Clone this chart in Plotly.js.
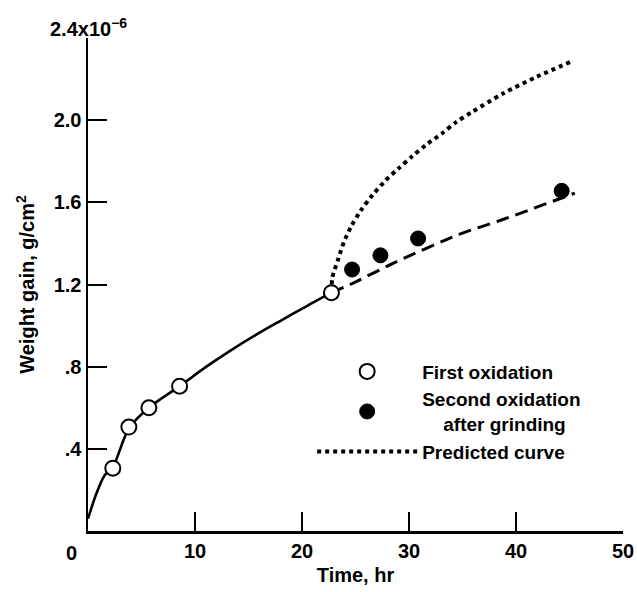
<!DOCTYPE html>
<html>
<head>
<meta charset="utf-8">
<script src="https://cdn.plot.ly/plotly-3.0.1.min.js"></script>
<style>html,body{margin:0;padding:0;background:#fff;}#chart{width:637px;height:592px;}</style>
</head>
<body>
<div id="chart"></div>
<script>
// Values in units of 1e-6 g/cm^2, time in hours
var fitTime = [0, 0.77, 1.54, 2.32, 3.82, 5.69, 8.56, 11.06, 13.24, 15.73, 17.91, 20.41, 22.75];
var fitGain = [0.06, 0.18, 0.27, 0.31, 0.50, 0.60, 0.705, 0.80, 0.876, 0.956, 1.021, 1.094, 1.16];

var secondFitTime = [22.75, 24.5, 28.8, 34.75, 38.7, 45.5];
var secondFitGain = [1.16, 1.20, 1.31, 1.445, 1.515, 1.645];

var predTime = [22.75, 22.84, 23.37, 23.90, 24.62, 25.52, 26.59, 27.74, 29.02, 30.33, 31.64, 33.07, 34.44, 35.90, 38.80, 41.93, 45.11];
var predGain = [1.16, 1.234, 1.321, 1.404, 1.485, 1.562, 1.635, 1.703, 1.765, 1.825, 1.882, 1.935, 1.992, 2.040, 2.130, 2.211, 2.284];

var firstTime = [2.32, 3.82, 5.69, 8.56, 22.75];
var firstGain = [0.306, 0.506, 0.600, 0.705, 1.16];

var secondTime = [24.68, 27.33, 30.85, 44.27];
var secondGain = [1.273, 1.342, 1.424, 1.656];

var xTicks = [10, 20, 30, 40, 50];
var yTicks = [0.4, 0.8, 1.2, 1.6, 2.0, 2.4];
var yTickText = ['.4', '.8', '1.2', '1.6', '2.0', ''];

var FONT = 'Liberation Sans, Arial, Helvetica, sans-serif';

var traces = [
  {x: fitTime, y: fitGain, mode: 'lines', line: {color: '#000', width: 2.6, shape: 'spline', smoothing: 0.8}, showlegend: false, hoverinfo: 'skip'},
  {x: secondFitTime, y: secondFitGain, mode: 'lines', line: {color: '#000', width: 3, dash: '13px,7px', shape: 'spline', smoothing: 0.8}, showlegend: false, hoverinfo: 'skip'},
  {x: predTime, y: predGain, mode: 'lines', name: 'Predicted curve', legendrank: 3, line: {color: '#000', width: 4, dash: '4px,4px', shape: 'spline', smoothing: 0.8}},
  {x: firstTime, y: firstGain, mode: 'markers', name: 'First oxidation', legendrank: 1, marker: {symbol: 'circle', size: 15, color: '#fff', line: {color: '#000', width: 2}}},
  {x: secondTime, y: secondGain, mode: 'markers', name: 'Second oxidation<br>\u00A0\u00A0\u00A0\u00A0after grinding', legendrank: 2, marker: {symbol: 'circle', size: 15, color: '#000', line: {color: '#000', width: 1}}}
];

var layout = {
  width: 637, height: 592,
  margin: {l: 88, r: 14, t: 38, b: 61},
  paper_bgcolor: '#fff', plot_bgcolor: '#fff',
  font: {family: FONT, size: 20, color: '#000', weight: 'bold'},
  xaxis: {
    range: [0, 50], tickvals: xTicks, ticks: 'inside', ticklen: 19, tickwidth: 2, tickcolor: '#000',
    showline: true, linewidth: 2.5, linecolor: '#000', showgrid: false, zeroline: false,
    tickfont: {family: FONT, size: 20, weight: 'bold'},
    title: {text: '\u00A0\u00A0Time, hr', font: {family: FONT, size: 20, weight: 'bold'}, standoff: 8}
  },
  yaxis: {
    range: [0, 2.4], tickvals: yTicks, ticktext: yTickText, ticks: 'inside', ticklen: 19, tickwidth: 2, tickcolor: '#000',
    showline: true, linewidth: 2.5, linecolor: '#000', showgrid: false, zeroline: false,
    tickfont: {family: FONT, size: 20, weight: 'bold'},
    title: {text: 'Weight gain, g/cm<sup>2</sup>', font: {family: FONT, size: 20, weight: 'bold'}, standoff: 14}
  },
  showlegend: true,
  legend: {
    x: 0.419, y: 0.362, xanchor: 'left', yanchor: 'top',
    bgcolor: 'rgba(0,0,0,0)', borderwidth: 0, itemwidth: 100,
    font: {family: FONT, size: 19, weight: 'bold'}, tracegroupgap: 0
  },
  annotations: [
    {text: '2.4x10<sup>\u22126</sup>', xref: 'paper', yref: 'paper', x: -0.075, y: 1.022, xanchor: 'left', yanchor: 'middle', showarrow: false, font: {family: FONT, size: 20, weight: 'bold'}},
    {text: '0', xref: 'paper', yref: 'paper', x: -0.03, y: -0.0456, xanchor: 'center', yanchor: 'middle', showarrow: false, font: {family: FONT, size: 20, weight: 'bold'}}
  ]
};

Plotly.newPlot('chart', traces, layout, {displayModeBar: false, staticPlot: true});
</script>
</body>
</html>
